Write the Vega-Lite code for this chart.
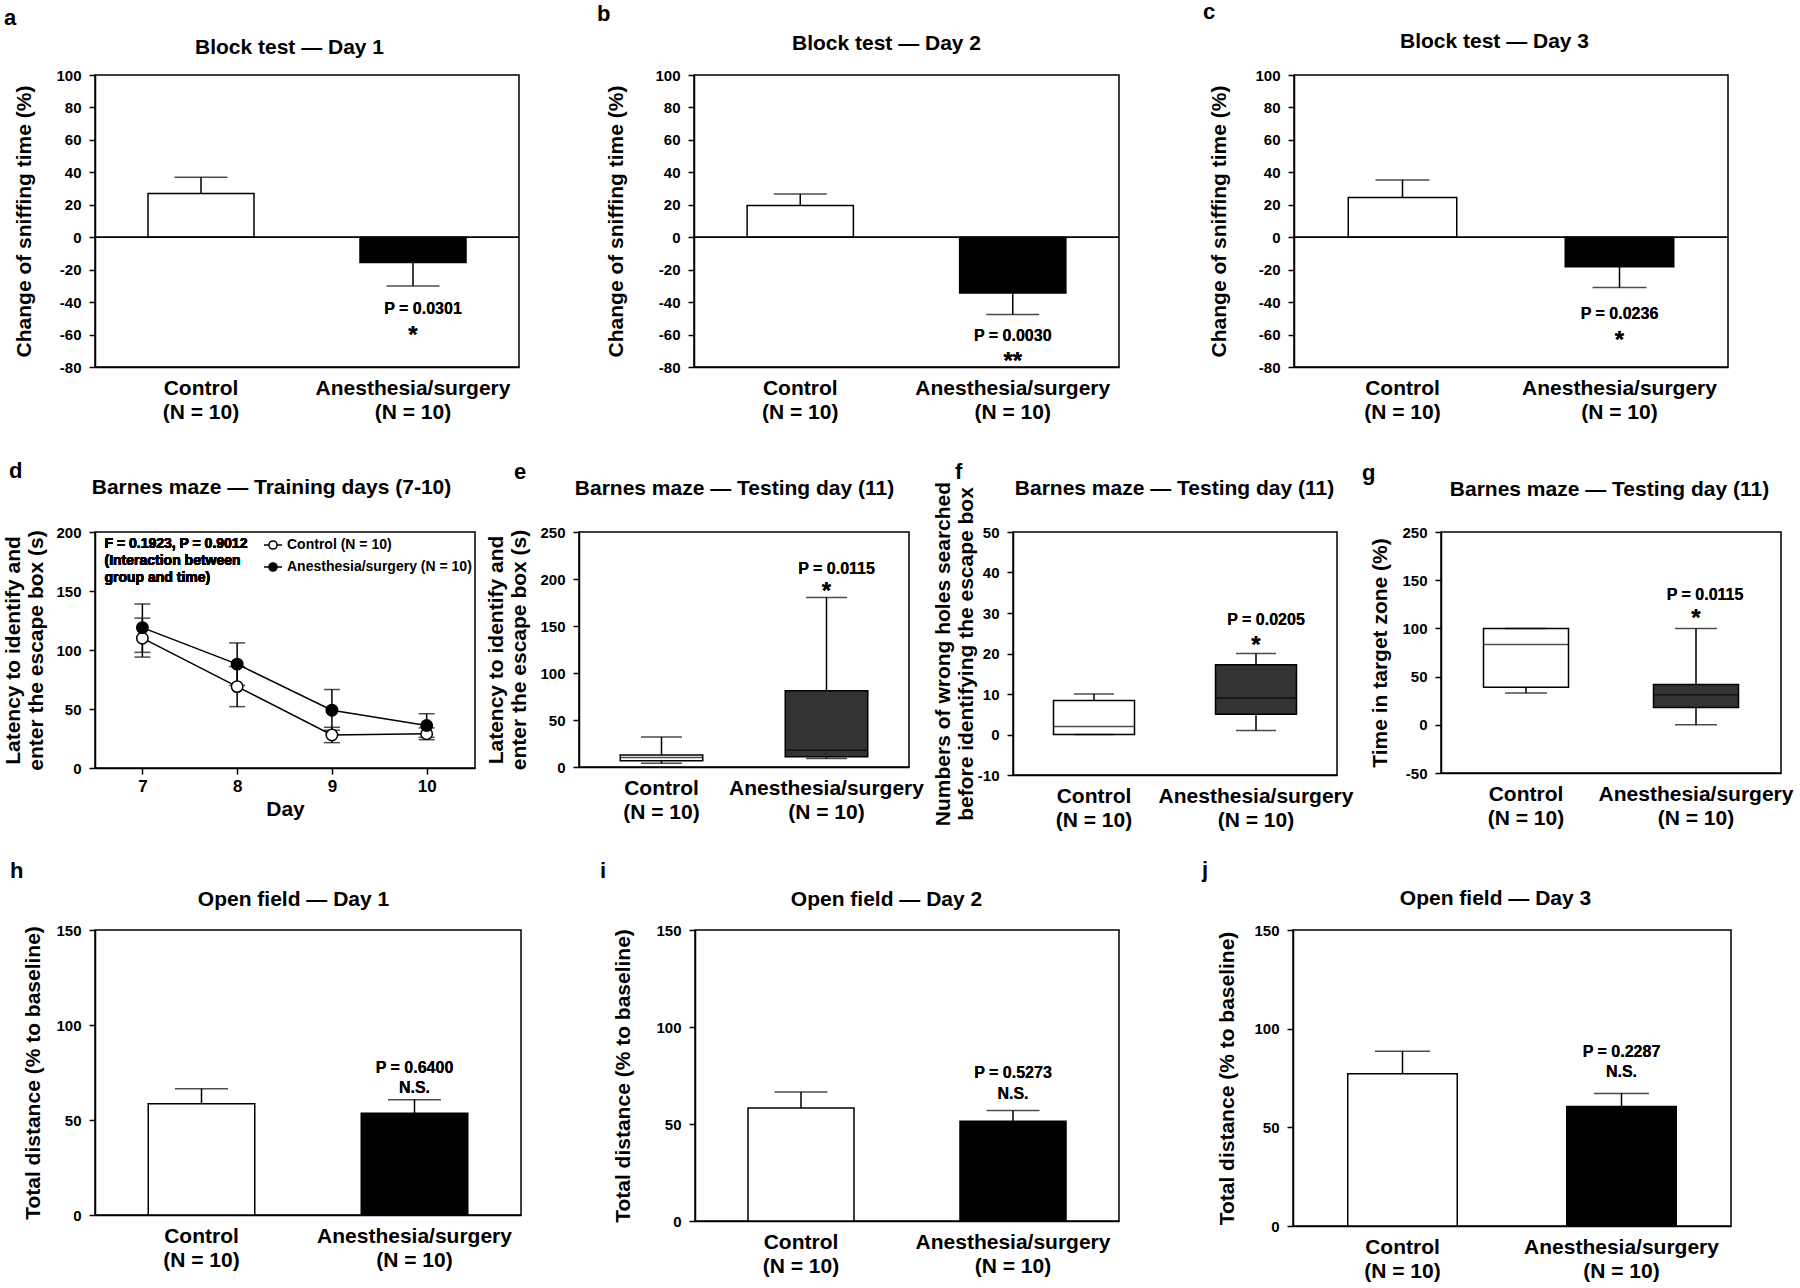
{
  "$schema": "https://vega.github.io/schema/vega-lite/v6.json",
  "background": "white",
  "padding": {"left": 2, "top": 0, "right": 2, "bottom": 2},
  "spacing": 36,
  "resolve": {"scale": {"fill": "independent"}},
  "datasets": {
    "a": [{"grp": "Control", "val": 27, "err": 37}, {"grp": "Anesthesia/surgery", "val": -15.6, "err": -30}],
    "b": [{"grp": "Control", "val": 19.6, "err": 26.6}, {"grp": "Anesthesia/surgery", "val": -34.4, "err": -47.6}],
    "c": [{"grp": "Control", "val": 24.5, "err": 35.3}, {"grp": "Anesthesia/surgery", "val": -18.2, "err": -31}],
    "h": [{"grp": "Control", "val": 58.6, "err": 66.5}, {"grp": "Anesthesia/surgery", "val": 53.5, "err": 60.7}],
    "i": [{"grp": "Control", "val": 58.2, "err": 66.5}, {"grp": "Anesthesia/surgery", "val": 51.4, "err": 57}],
    "j": [{"grp": "Control", "val": 77.2, "err": 88.5}, {"grp": "Anesthesia/surgery", "val": 60.5, "err": 67.2}],
    "d": [
      {"day": 7, "grp": "Control", "val": 110, "lo": 94, "hi": 127},
      {"day": 8, "grp": "Control", "val": 69, "lo": 52, "hi": 86},
      {"day": 9, "grp": "Control", "val": 28, "lo": 21.5, "hi": 34.5},
      {"day": 10, "grp": "Control", "val": 29, "lo": 24, "hi": 34},
      {"day": 7, "grp": "Anesthesia/surgery", "val": 119, "lo": 98, "hi": 139},
      {"day": 8, "grp": "Anesthesia/surgery", "val": 88, "lo": 70, "hi": 106},
      {"day": 9, "grp": "Anesthesia/surgery", "val": 49, "lo": 32, "hi": 66.5},
      {"day": 10, "grp": "Anesthesia/surgery", "val": 36, "lo": 26, "hi": 46}
    ],
    "e": [
      {"grp": "Control", "lo": 3.9, "q1": 6.7, "med": 10.2, "q3": 12.7, "hi": 32},
      {"grp": "Anesthesia/surgery", "lo": 9.1, "q1": 10.9, "med": 17.9, "q3": 81.2, "hi": 180.4}
    ],
    "f": [
      {"grp": "Control", "lo": 0, "q1": 0, "med": 2, "q3": 8.4, "hi": 10},
      {"grp": "Anesthesia/surgery", "lo": 1, "q1": 5, "med": 9, "q3": 17.2, "hi": 20}
    ],
    "g": [
      {"grp": "Control", "lo": 33, "q1": 39, "med": 83.3, "q3": 100, "hi": 100},
      {"grp": "Anesthesia/surgery", "lo": 0, "q1": 18, "med": 31.2, "q3": 41.8, "hi": 100}
    ]
  },
  "vconcat": [
    {
      "bounds": "flush",
      "spacing": 175,
      "resolve": {"scale": {"fill": "independent"}},
      "hconcat": [
        {
          "width": 424, "height": 292,
          "title": {"text": "a", "dx": -91, "offset": 6},
          "data": {"name": "a"},
          "resolve": {"axis": {"x": "independent"}},
          "layer": [
            {"mark": {"type": "bar", "stroke": "black", "strokeWidth": 1.5},
             "encoding": {
               "x": {"field": "grp", "type": "nominal", "scale": {"domain": ["Control", "Anesthesia/surgery"], "paddingInner": 0.5, "paddingOuter": 0.25}, "axis": {"title": null, "labelExpr": "[datum.label, '(N = 10)']"}},
               "y": {"field": "val", "type": "quantitative", "scale": {"domain": [-80, 100], "nice": false, "zero": false}, "axis": {"title": "Change of sniffing time (%)", "values": [-80, -60, -40, -20, 0, 20, 40, 60, 80, 100], "tickCount": 20, "labelExpr": "'' + datum.value", "labelOverlap": false, "titlePadding": 21}},
               "fill": {"field": "grp", "type": "nominal", "scale": {"domain": ["Control", "Anesthesia/surgery"], "range": ["white", "black"]}, "legend": null}}},
            {"mark": {"type": "rule", "color": "black", "strokeWidth": 1.5},
             "encoding": {
               "x": {"field": "grp", "type": "nominal", "axis": {"orient": "top", "title": "Block test — Day 1", "labels": false, "ticks": false, "domain": false, "titleX": 194, "titleY": -22, "titleBaseline": "alphabetic", "titleAlign": "center"}},
               "y": {"field": "val", "type": "quantitative"}, "y2": {"field": "err"}}},
            {"mark": {"type": "tick", "color": "black", "thickness": 1.5, "size": 53},
             "encoding": {"x": {"field": "grp", "type": "nominal", "axis": null}, "y": {"field": "err", "type": "quantitative"}}},
            {"mark": {"type": "rule", "color": "black", "strokeWidth": 1.5}, "encoding": {"y": {"datum": 0}}},
            {"mark": {"type": "text", "fontSize": 16, "baseline": "alphabetic", "dx": 10},
             "encoding": {"x": {"datum": "Anesthesia/surgery", "axis": null}, "y": {"datum": -47.1}, "text": {"value": "P = 0.0301"}}},
            {"mark": {"type": "text", "fontSize": 24, "baseline": "alphabetic"},
             "encoding": {"x": {"datum": "Anesthesia/surgery", "axis": null}, "y": {"datum": -65.2}, "text": {"value": "*"}}}
          ]
        },
        {
          "width": 425, "height": 292,
          "title": {"text": "b", "dx": -97, "offset": 6},
          "data": {"name": "b"},
          "resolve": {"axis": {"x": "independent"}},
          "layer": [
            {"mark": {"type": "bar", "stroke": "black", "strokeWidth": 1.5},
             "encoding": {
               "x": {"field": "grp", "type": "nominal", "scale": {"domain": ["Control", "Anesthesia/surgery"], "paddingInner": 0.5, "paddingOuter": 0.25}, "axis": {"title": null, "labelExpr": "[datum.label, '(N = 10)']"}},
               "y": {"field": "val", "type": "quantitative", "scale": {"domain": [-80, 100], "nice": false, "zero": false}, "axis": {"title": "Change of sniffing time (%)", "values": [-80, -60, -40, -20, 0, 20, 40, 60, 80, 100], "tickCount": 20, "labelExpr": "'' + datum.value", "labelOverlap": false, "titlePadding": 28}},
               "fill": {"field": "grp", "type": "nominal", "scale": {"domain": ["Control", "Anesthesia/surgery"], "range": ["white", "black"]}, "legend": null}}},
            {"mark": {"type": "rule", "color": "black", "strokeWidth": 1.5},
             "encoding": {
               "x": {"field": "grp", "type": "nominal", "axis": {"orient": "top", "title": "Block test — Day 2", "labels": false, "ticks": false, "domain": false, "titleX": 192, "titleY": -26, "titleBaseline": "alphabetic", "titleAlign": "center"}},
               "y": {"field": "val", "type": "quantitative"}, "y2": {"field": "err"}}},
            {"mark": {"type": "tick", "color": "black", "thickness": 1.5, "size": 53},
             "encoding": {"x": {"field": "grp", "type": "nominal", "axis": null}, "y": {"field": "err", "type": "quantitative"}}},
            {"mark": {"type": "rule", "color": "black", "strokeWidth": 1.5}, "encoding": {"y": {"datum": 0}}},
            {"mark": {"type": "text", "fontSize": 16, "baseline": "alphabetic"},
             "encoding": {"x": {"datum": "Anesthesia/surgery", "axis": null}, "y": {"datum": -63.8}, "text": {"value": "P = 0.0030"}}},
            {"mark": {"type": "text", "fontSize": 24, "baseline": "alphabetic"},
             "encoding": {"x": {"datum": "Anesthesia/surgery", "axis": null}, "y": {"datum": -81.2}, "text": {"value": "**"}}}
          ]
        },
        {
          "width": 434, "height": 292,
          "title": {"text": "c", "dx": -91, "offset": 6},
          "data": {"name": "c"},
          "resolve": {"axis": {"x": "independent"}},
          "layer": [
            {"mark": {"type": "bar", "stroke": "black", "strokeWidth": 1.5},
             "encoding": {
               "x": {"field": "grp", "type": "nominal", "scale": {"domain": ["Control", "Anesthesia/surgery"], "paddingInner": 0.5, "paddingOuter": 0.25}, "axis": {"title": null, "labelExpr": "[datum.label, '(N = 10)']"}},
               "y": {"field": "val", "type": "quantitative", "scale": {"domain": [-80, 100], "nice": false, "zero": false}, "axis": {"title": "Change of sniffing time (%)", "values": [-80, -60, -40, -20, 0, 20, 40, 60, 80, 100], "tickCount": 20, "labelExpr": "'' + datum.value", "labelOverlap": false, "titlePadding": 25}},
               "fill": {"field": "grp", "type": "nominal", "scale": {"domain": ["Control", "Anesthesia/surgery"], "range": ["white", "black"]}, "legend": null}}},
            {"mark": {"type": "rule", "color": "black", "strokeWidth": 1.5},
             "encoding": {
               "x": {"field": "grp", "type": "nominal", "axis": {"orient": "top", "title": "Block test — Day 3", "labels": false, "ticks": false, "domain": false, "titleX": 200, "titleY": -28, "titleBaseline": "alphabetic", "titleAlign": "center"}},
               "y": {"field": "val", "type": "quantitative"}, "y2": {"field": "err"}}},
            {"mark": {"type": "tick", "color": "black", "thickness": 1.5, "size": 54},
             "encoding": {"x": {"field": "grp", "type": "nominal", "axis": null}, "y": {"field": "err", "type": "quantitative"}}},
            {"mark": {"type": "rule", "color": "black", "strokeWidth": 1.5}, "encoding": {"y": {"datum": 0}}},
            {"mark": {"type": "text", "fontSize": 16, "baseline": "alphabetic"},
             "encoding": {"x": {"datum": "Anesthesia/surgery", "axis": null}, "y": {"datum": -50.5}, "text": {"value": "P = 0.0236"}}},
            {"mark": {"type": "text", "fontSize": 24, "baseline": "alphabetic"},
             "encoding": {"x": {"datum": "Anesthesia/surgery", "axis": null}, "y": {"datum": -68.2}, "text": {"value": "*"}}}
          ]
        }
      ]
    },
    {
      "spacing": 27,
      "resolve": {"scale": {"fill": "independent"}},
      "vconcat": [
        {
          "bounds": "flush",
          "spacing": 104,
          "resolve": {"scale": {"fill": "independent"}},
          "hconcat": [
            {
              "width": 380, "height": 236,
              "title": {"text": "d", "dx": -86, "offset": -7},
              "data": {"name": "d"},
              "resolve": {"axis": {"x": "independent"}},
              "layer": [
                {"mark": {"type": "line", "color": "black", "strokeWidth": 1.5},
                 "encoding": {
                   "x": {"field": "day", "type": "quantitative", "scale": {"domain": [6.5, 10.51], "nice": false, "zero": false}, "axis": {"title": "Day", "values": [7, 8, 9, 10], "labelExpr": "'' + datum.value", "ticks": true, "tickSize": 6, "labelFontSize": 17, "labelPadding": 4, "titlePadding": 4}},
                   "y": {"field": "val", "type": "quantitative", "scale": {"domain": [0, 200], "nice": false}, "axis": {"title": ["Latency to identify and", "enter the escape box (s)"], "values": [0, 50, 100, 150, 200], "tickCount": 20, "labelExpr": "'' + datum.value", "labelOverlap": false, "titlePadding": 9}},
                   "detail": {"field": "grp"}}},
                {"mark": {"type": "rule", "color": "black", "strokeWidth": 1.5},
                 "encoding": {
                   "x": {"field": "day", "type": "quantitative", "axis": {"orient": "top", "title": "Barnes maze — Training days (7-10)", "labels": false, "ticks": false, "domain": false, "titleX": 176, "titleY": -39, "titleBaseline": "alphabetic", "titleAlign": "center"}},
                   "y": {"field": "lo", "type": "quantitative"}, "y2": {"field": "hi"}}},
                {"mark": {"type": "tick", "color": "black", "thickness": 1.5, "size": 16, "orient": "horizontal"},
                 "encoding": {"x": {"field": "day", "type": "quantitative", "axis": null}, "y": {"field": "lo", "type": "quantitative"}}},
                {"mark": {"type": "tick", "color": "black", "thickness": 1.5, "size": 16, "orient": "horizontal"},
                 "encoding": {"x": {"field": "day", "type": "quantitative", "axis": null}, "y": {"field": "hi", "type": "quantitative"}}},
                {"mark": {"type": "point", "filled": true, "size": 130, "stroke": "black", "strokeWidth": 1.5, "opacity": 1},
                 "encoding": {
                   "x": {"field": "day", "type": "quantitative", "axis": null},
                   "y": {"field": "val", "type": "quantitative"},
                   "fill": {"field": "grp", "type": "nominal", "scale": {"domain": ["Control", "Anesthesia/surgery"], "range": ["white", "black"]},
                     "legend": {"orient": "top-right", "offset": 3, "title": null, "labelExpr": "datum.label + ' (N = 10)'", "symbolType": "M-1,0L-0.45,0M0.45,0L1,0M-0.45,0A0.45,0.45,0,1,1,0.45,0A0.45,0.45,0,1,1,-0.45,0Z", "symbolSize": 324, "symbolStrokeColor": "black", "symbolStrokeWidth": 1.5, "labelFontSize": 14, "labelFontWeight": "bold", "labelFont": "Liberation Sans", "labelColor": "black", "labelLimit": 400, "rowPadding": 4, "labelOffset": 4, "padding": 0}}}},
                {"mark": {"type": "text", "fontSize": 14, "align": "left", "baseline": "top", "lineBreak": "\n", "lineHeight": 17},
                 "encoding": {"x": {"datum": 6.6, "axis": null}, "y": {"datum": 195.5}, "text": {"value": "F = 0.1923, P = 0.9012\n(Interaction between\ngroup and time)"}}}
              ]
            },
            {
              "width": 330, "height": 235,
              "title": {"text": "e", "dx": -65, "offset": -7},
              "data": {"name": "e"},
              "resolve": {"axis": {"x": "independent"}},
              "layer": [
                {"mark": {"type": "rule", "color": "black", "strokeWidth": 1.5},
                 "encoding": {
                   "x": {"field": "grp", "type": "nominal", "scale": {"domain": ["Control", "Anesthesia/surgery"], "paddingInner": 0.5, "paddingOuter": 0.25}, "axis": {"title": null, "labelExpr": "[datum.label, '(N = 10)']"}},
                   "y": {"field": "lo", "type": "quantitative", "scale": {"domain": [0, 250], "nice": false}, "axis": {"title": ["Latency to identify and", "enter the escape box (s)"], "values": [0, 50, 100, 150, 200, 250], "tickCount": 20, "labelExpr": "'' + datum.value", "labelOverlap": false, "titlePadding": 10}},
                   "y2": {"field": "hi"}}},
                {"mark": {"type": "bar", "stroke": "black", "strokeWidth": 1.5},
                 "encoding": {
                   "x": {"field": "grp", "type": "nominal", "axis": {"orient": "top", "title": "Barnes maze — Testing day (11)", "labels": false, "ticks": false, "domain": false, "titleX": 155, "titleY": -38, "titleBaseline": "alphabetic", "titleAlign": "center"}},
                   "y": {"field": "q1", "type": "quantitative"}, "y2": {"field": "q3"},
                   "fill": {"field": "grp", "type": "nominal", "scale": {"domain": ["Control", "Anesthesia/surgery"], "range": ["white", "#333333"]}, "legend": null}}},
                {"mark": {"type": "tick", "color": "black", "thickness": 1.5, "size": 82},
                 "encoding": {"x": {"field": "grp", "type": "nominal", "axis": null}, "y": {"field": "med", "type": "quantitative"}}},
                {"mark": {"type": "tick", "color": "black", "thickness": 1.5, "size": 41},
                 "encoding": {"x": {"field": "grp", "type": "nominal", "axis": null}, "y": {"field": "lo", "type": "quantitative"}}},
                {"mark": {"type": "tick", "color": "black", "thickness": 1.5, "size": 41},
                 "encoding": {"x": {"field": "grp", "type": "nominal", "axis": null}, "y": {"field": "hi", "type": "quantitative"}}},
                {"mark": {"type": "text", "fontSize": 16, "baseline": "alphabetic", "dx": 10},
                 "encoding": {"x": {"datum": "Anesthesia/surgery", "axis": null}, "y": {"datum": 205.3}, "text": {"value": "P = 0.0115"}}},
                {"mark": {"type": "text", "fontSize": 24, "baseline": "alphabetic"},
                 "encoding": {"x": {"datum": "Anesthesia/surgery", "axis": null}, "y": {"datum": 179}, "text": {"value": "*"}}}
              ]
            },
            {
              "width": 324, "height": 243,
              "title": {"text": "f", "dx": -58, "offset": -7},
              "data": {"name": "f"},
              "resolve": {"axis": {"x": "independent"}},
              "layer": [
                {"mark": {"type": "rule", "color": "black", "strokeWidth": 1.5},
                 "encoding": {
                   "x": {"field": "grp", "type": "nominal", "scale": {"domain": ["Control", "Anesthesia/surgery"], "paddingInner": 0.5, "paddingOuter": 0.25}, "axis": {"title": null, "labelExpr": "[datum.label, '(N = 10)']"}},
                   "y": {"field": "lo", "type": "quantitative", "scale": {"domain": [-10, 50], "nice": false, "zero": false}, "axis": {"title": ["Numbers of wrong holes searched", "before identifying the escape box"], "values": [-10, 0, 10, 20, 30, 40, 50], "tickCount": 20, "labelExpr": "'' + datum.value", "labelOverlap": false, "titlePadding": 1}},
                   "y2": {"field": "hi"}}},
                {"mark": {"type": "bar", "stroke": "black", "strokeWidth": 1.5},
                 "encoding": {
                   "x": {"field": "grp", "type": "nominal", "axis": {"orient": "top", "title": "Barnes maze — Testing day (11)", "labels": false, "ticks": false, "domain": false, "titleX": 161, "titleY": -38, "titleBaseline": "alphabetic", "titleAlign": "center"}},
                   "y": {"field": "q1", "type": "quantitative"}, "y2": {"field": "q3"},
                   "fill": {"field": "grp", "type": "nominal", "scale": {"domain": ["Control", "Anesthesia/surgery"], "range": ["white", "#333333"]}, "legend": null}}},
                {"mark": {"type": "tick", "color": "black", "thickness": 1.5, "size": 81},
                 "encoding": {"x": {"field": "grp", "type": "nominal", "axis": null}, "y": {"field": "med", "type": "quantitative"}}},
                {"mark": {"type": "tick", "color": "black", "thickness": 1.5, "size": 40},
                 "encoding": {"x": {"field": "grp", "type": "nominal", "axis": null}, "y": {"field": "lo", "type": "quantitative"}}},
                {"mark": {"type": "tick", "color": "black", "thickness": 1.5, "size": 40},
                 "encoding": {"x": {"field": "grp", "type": "nominal", "axis": null}, "y": {"field": "hi", "type": "quantitative"}}},
                {"mark": {"type": "text", "fontSize": 16, "baseline": "alphabetic", "dx": 10},
                 "encoding": {"x": {"datum": "Anesthesia/surgery", "axis": null}, "y": {"datum": 27}, "text": {"value": "P = 0.0205"}}},
                {"mark": {"type": "text", "fontSize": 24, "baseline": "alphabetic"},
                 "encoding": {"x": {"datum": "Anesthesia/surgery", "axis": null}, "y": {"datum": 20.2}, "text": {"value": "*"}}}
              ]
            },
            {
              "width": 340, "height": 241,
              "title": {"text": "g", "dx": -79, "offset": -7},
              "data": {"name": "g"},
              "resolve": {"axis": {"x": "independent"}},
              "layer": [
                {"mark": {"type": "rule", "color": "black", "strokeWidth": 1.5},
                 "encoding": {
                   "x": {"field": "grp", "type": "nominal", "scale": {"domain": ["Control", "Anesthesia/surgery"], "paddingInner": 0.5, "paddingOuter": 0.25}, "axis": {"title": null, "labelExpr": "[datum.label, '(N = 10)']"}},
                   "y": {"field": "lo", "type": "quantitative", "scale": {"domain": [-50, 200], "nice": false, "zero": false}, "axis": {"title": "Time in target zone (%)", "values": [-50, 0, 50, 100, 150, 200], "tickCount": 20, "labelExpr": "datum.value == 200 ? '250' : '' + datum.value", "labelOverlap": false, "titlePadding": 11}},
                   "y2": {"field": "hi"}}},
                {"mark": {"type": "bar", "stroke": "black", "strokeWidth": 1.5},
                 "encoding": {
                   "x": {"field": "grp", "type": "nominal", "axis": {"orient": "top", "title": "Barnes maze — Testing day (11)", "labels": false, "ticks": false, "domain": false, "titleX": 168, "titleY": -37, "titleBaseline": "alphabetic", "titleAlign": "center"}},
                   "y": {"field": "q1", "type": "quantitative"}, "y2": {"field": "q3"},
                   "fill": {"field": "grp", "type": "nominal", "scale": {"domain": ["Control", "Anesthesia/surgery"], "range": ["white", "#333333"]}, "legend": null}}},
                {"mark": {"type": "tick", "color": "black", "thickness": 1.5, "size": 85},
                 "encoding": {"x": {"field": "grp", "type": "nominal", "axis": null}, "y": {"field": "med", "type": "quantitative"}}},
                {"mark": {"type": "tick", "color": "black", "thickness": 1.5, "size": 42},
                 "encoding": {"x": {"field": "grp", "type": "nominal", "axis": null}, "y": {"field": "lo", "type": "quantitative"}}},
                {"mark": {"type": "tick", "color": "black", "thickness": 1.5, "size": 42},
                 "encoding": {"x": {"field": "grp", "type": "nominal", "axis": null}, "y": {"field": "hi", "type": "quantitative"}}},
                {"mark": {"type": "text", "fontSize": 16, "baseline": "alphabetic", "dx": 9},
                 "encoding": {"x": {"datum": "Anesthesia/surgery", "axis": null}, "y": {"datum": 129}, "text": {"value": "P = 0.0115"}}},
                {"mark": {"type": "text", "fontSize": 24, "baseline": "alphabetic"},
                 "encoding": {"x": {"datum": "Anesthesia/surgery", "axis": null}, "y": {"datum": 102.4}, "text": {"value": "*"}}}
              ]
            }
          ]
        },
        {
          "bounds": "flush",
          "spacing": 174,
          "resolve": {"scale": {"fill": "independent"}},
          "hconcat": [
            {
              "width": 426, "height": 285,
              "title": {"text": "h", "dx": -85, "offset": 5},
              "data": {"name": "h"},
              "resolve": {"axis": {"x": "independent"}},
              "layer": [
                {"mark": {"type": "bar", "stroke": "black", "strokeWidth": 1.5},
                 "encoding": {
                   "x": {"field": "grp", "type": "nominal", "scale": {"domain": ["Control", "Anesthesia/surgery"], "paddingInner": 0.5, "paddingOuter": 0.25}, "axis": {"title": null, "labelExpr": "[datum.label, '(N = 10)']"}},
                   "y": {"field": "val", "type": "quantitative", "scale": {"domain": [0, 150], "nice": false}, "axis": {"title": "Total distance (% to baseline)", "values": [0, 50, 100, 150], "tickCount": 20, "labelExpr": "'' + datum.value", "labelOverlap": false, "titlePadding": 12}},
                   "fill": {"field": "grp", "type": "nominal", "scale": {"domain": ["Control", "Anesthesia/surgery"], "range": ["white", "black"]}, "legend": null}}},
                {"mark": {"type": "rule", "color": "black", "strokeWidth": 1.5},
                 "encoding": {
                   "x": {"field": "grp", "type": "nominal", "axis": {"orient": "top", "title": "Open field — Day 1", "labels": false, "ticks": false, "domain": false, "titleX": 198, "titleY": -25, "titleBaseline": "alphabetic", "titleAlign": "center"}},
                   "y": {"field": "val", "type": "quantitative"}, "y2": {"field": "err"}}},
                {"mark": {"type": "tick", "color": "black", "thickness": 1.5, "size": 53},
                 "encoding": {"x": {"field": "grp", "type": "nominal", "axis": null}, "y": {"field": "err", "type": "quantitative"}}},
                {"mark": {"type": "text", "fontSize": 16, "baseline": "alphabetic"},
                 "encoding": {"x": {"datum": "Anesthesia/surgery", "axis": null}, "y": {"datum": 74.9}, "text": {"value": "P = 0.6400"}}},
                {"mark": {"type": "text", "fontSize": 16, "baseline": "alphabetic"},
                 "encoding": {"x": {"datum": "Anesthesia/surgery", "axis": null}, "y": {"datum": 64.4}, "text": {"value": "N.S."}}}
              ]
            },
            {
              "width": 424, "height": 291,
              "title": {"text": "i", "dx": -95, "offset": 5},
              "data": {"name": "i"},
              "resolve": {"axis": {"x": "independent"}},
              "layer": [
                {"mark": {"type": "bar", "stroke": "black", "strokeWidth": 1.5},
                 "encoding": {
                   "x": {"field": "grp", "type": "nominal", "scale": {"domain": ["Control", "Anesthesia/surgery"], "paddingInner": 0.5, "paddingOuter": 0.25}, "axis": {"title": null, "labelExpr": "[datum.label, '(N = 10)']"}},
                   "y": {"field": "val", "type": "quantitative", "scale": {"domain": [0, 150], "nice": false}, "axis": {"title": "Total distance (% to baseline)", "values": [0, 50, 100, 150], "tickCount": 20, "labelExpr": "'' + datum.value", "labelOverlap": false, "titlePadding": 22}},
                   "fill": {"field": "grp", "type": "nominal", "scale": {"domain": ["Control", "Anesthesia/surgery"], "range": ["white", "black"]}, "legend": null}}},
                {"mark": {"type": "rule", "color": "black", "strokeWidth": 1.5},
                 "encoding": {
                   "x": {"field": "grp", "type": "nominal", "axis": {"orient": "top", "title": "Open field — Day 2", "labels": false, "ticks": false, "domain": false, "titleX": 191, "titleY": -25, "titleBaseline": "alphabetic", "titleAlign": "center"}},
                   "y": {"field": "val", "type": "quantitative"}, "y2": {"field": "err"}}},
                {"mark": {"type": "tick", "color": "black", "thickness": 1.5, "size": 53},
                 "encoding": {"x": {"field": "grp", "type": "nominal", "axis": null}, "y": {"field": "err", "type": "quantitative"}}},
                {"mark": {"type": "text", "fontSize": 16, "baseline": "alphabetic"},
                 "encoding": {"x": {"datum": "Anesthesia/surgery", "axis": null}, "y": {"datum": 73.5}, "text": {"value": "P = 0.5273"}}},
                {"mark": {"type": "text", "fontSize": 16, "baseline": "alphabetic"},
                 "encoding": {"x": {"datum": "Anesthesia/surgery", "axis": null}, "y": {"datum": 62.9}, "text": {"value": "N.S."}}}
              ]
            },
            {
              "width": 438, "height": 296,
              "title": {"text": "j", "dx": -91, "offset": 5},
              "data": {"name": "j"},
              "resolve": {"axis": {"x": "independent"}},
              "layer": [
                {"mark": {"type": "bar", "stroke": "black", "strokeWidth": 1.5},
                 "encoding": {
                   "x": {"field": "grp", "type": "nominal", "scale": {"domain": ["Control", "Anesthesia/surgery"], "paddingInner": 0.5, "paddingOuter": 0.25}, "axis": {"title": null, "labelExpr": "[datum.label, '(N = 10)']"}},
                   "y": {"field": "val", "type": "quantitative", "scale": {"domain": [0, 150], "nice": false}, "axis": {"title": "Total distance (% to baseline)", "values": [0, 50, 100, 150], "tickCount": 20, "labelExpr": "'' + datum.value", "labelOverlap": false, "titlePadding": 16}},
                   "fill": {"field": "grp", "type": "nominal", "scale": {"domain": ["Control", "Anesthesia/surgery"], "range": ["white", "black"]}, "legend": null}}},
                {"mark": {"type": "rule", "color": "black", "strokeWidth": 1.5},
                 "encoding": {
                   "x": {"field": "grp", "type": "nominal", "axis": {"orient": "top", "title": "Open field — Day 3", "labels": false, "ticks": false, "domain": false, "titleX": 202, "titleY": -26, "titleBaseline": "alphabetic", "titleAlign": "center"}},
                   "y": {"field": "val", "type": "quantitative"}, "y2": {"field": "err"}}},
                {"mark": {"type": "tick", "color": "black", "thickness": 1.5, "size": 55},
                 "encoding": {"x": {"field": "grp", "type": "nominal", "axis": null}, "y": {"field": "err", "type": "quantitative"}}},
                {"mark": {"type": "text", "fontSize": 16, "baseline": "alphabetic"},
                 "encoding": {"x": {"datum": "Anesthesia/surgery", "axis": null}, "y": {"datum": 85.8}, "text": {"value": "P = 0.2287"}}},
                {"mark": {"type": "text", "fontSize": 16, "baseline": "alphabetic"},
                 "encoding": {"x": {"datum": "Anesthesia/surgery", "axis": null}, "y": {"datum": 75.7}, "text": {"value": "N.S."}}}
              ]
            }
          ]
        }
      ]
    }
  ],
  "config": {
    "font": "Liberation Sans",
    "view": {"stroke": "black", "strokeWidth": 1.5},
    "axis": {"grid": false, "labelOverlap": false, "labelFont": "Liberation Sans", "labelFontWeight": "bold", "labelFontSize": 15, "labelColor": "black", "labelLimit": 400, "titleFont": "Liberation Sans", "titleFontWeight": "bold", "titleFontSize": 21, "titleColor": "black", "titleLimit": 1000, "titleLineHeight": 23, "domainColor": "black", "domainWidth": 1.5, "tickColor": "black", "tickWidth": 1.5},
    "axisX": {"labelFontSize": 21, "ticks": false, "labelAngle": 0, "labelLineHeight": 24, "labelPadding": 10},
    "axisY": {"tickSize": 6, "labelPadding": 8},
    "title": {"font": "Liberation Sans", "fontWeight": "bold", "fontSize": 22, "color": "black", "anchor": "start", "frame": "group"},
    "text": {"font": "Liberation Sans", "fontWeight": "bold", "color": "black"}
  }
}
